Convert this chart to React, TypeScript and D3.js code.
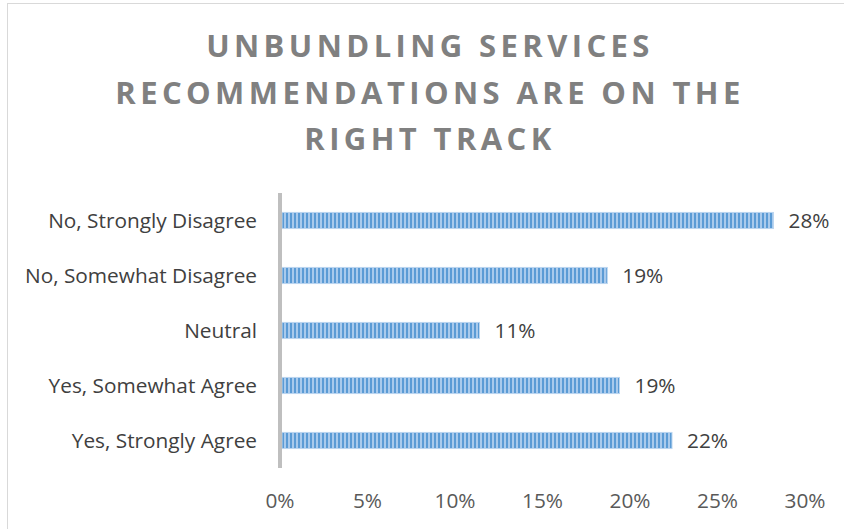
import React from "react";
import * as d3 from "d3";

const categories = [
  "No, Strongly Disagree",
  "No, Somewhat Disagree",
  "Neutral",
  "Yes, Somewhat Agree",
  "Yes, Strongly Agree",
];
const values = [28.2, 18.7, 11.4, 19.4, 22.4];
const valueLabels = ["28%", "19%", "11%", "19%", "22%"];
const ticks = [0, 5, 10, 15, 20, 25, 30];
const titleLines = ["UNBUNDLING SERVICES", "RECOMMENDATIONS ARE ON THE", "RIGHT TRACK"];

const W = 844;
const H = 529;
const FONT = "'Open Sans', sans-serif";

export default function App() {
  const x = d3.scaleLinear().domain([0, 30]).range([280, 805]);
  const y = d3.scaleBand<string>().domain(categories).range([193, 468]).paddingInner(0.69).paddingOuter(0.345);

  return (
    <div style={{ position: "fixed", left: 0, top: 0, width: W, height: H, background: "#fff" }}>
      <svg width={W} height={H} style={{ display: "block" }}>
        <defs>
          <pattern id="stripes" width={4} height={10} patternUnits="userSpaceOnUse" x={282}>
            <rect x={0} y={0} width={4} height={10} fill="#a9caec" />
            <rect x={0} y={0} width={2} height={10} fill="#5b9bd5" />
          </pattern>
        </defs>
        <rect x={7.5} y={3.5} width={W + 20} height={H + 20} fill="#fff" stroke="#d9d9d9" strokeWidth={1} />
        {titleLines.map((t, i) => (
          <text
            key={t}
            x={W / 2 + 8}
            y={57 + i * 46.5}
            textAnchor="middle"
            fontFamily={FONT}
            fontWeight={700}
            fontSize={31}
            letterSpacing={4.4}
            fill="#808080"
          >
            {t}
          </text>
        ))}
        {categories.map((c, i) => {
          const by = y(c)!;
          const bh = y.bandwidth();
          return (
            <g key={c}>
              <rect x={x(0) + 2} y={by} width={x(values[i]) - x(0) - 2} height={bh} fill="url(#stripes)" />
              <rect x={x(0) + 2} y={by + 0.5} width={x(values[i]) - x(0) - 2} height={bh - 1} fill="none" stroke="#bcd6f0" strokeWidth={1} />
              <text x={257} y={by + bh / 2} dy="0.36em" textAnchor="end" fontFamily={FONT} fontSize={20.8} fill="#404040">
                {c}
              </text>
              <text x={x(values[i]) + 15} y={by + bh / 2} dy="0.36em" textAnchor="start" fontFamily={FONT} fontSize={20.8} fill="#404040">
                {valueLabels[i]}
              </text>
            </g>
          );
        })}
        <line x1={x(0)} x2={x(0)} y1={193} y2={468} stroke="#bfbfbf" strokeWidth={4} />
        {ticks.map((t) => (
          <text key={t} x={x(t)} y={508} textAnchor="middle" fontFamily={FONT} fontSize={20.8} fill="#595959">
            {`${t}%`}
          </text>
        ))}
      </svg>
    </div>
  );
}
